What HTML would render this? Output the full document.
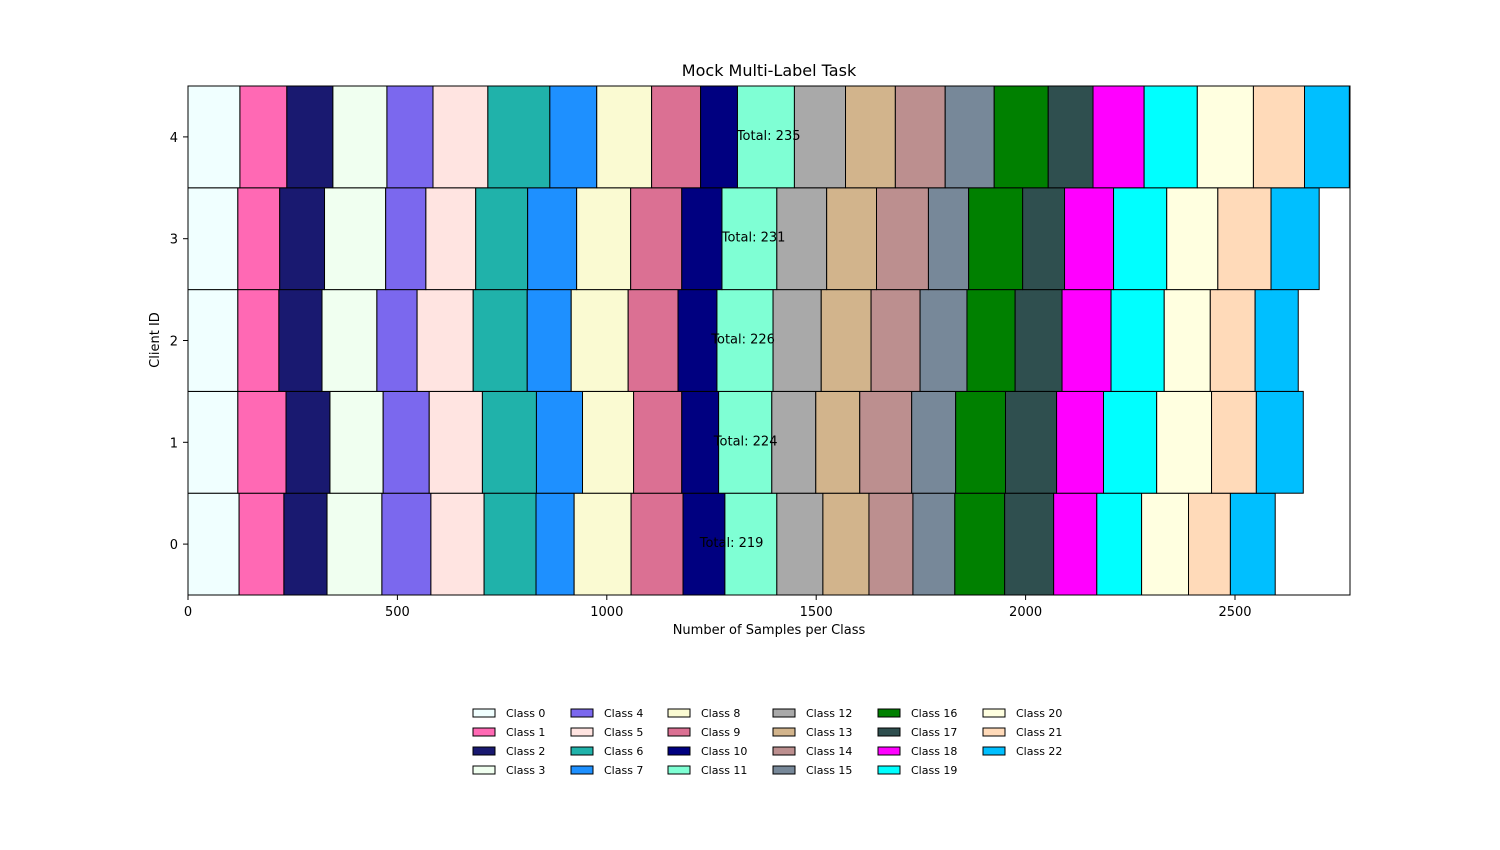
<!DOCTYPE html>
<html><head><meta charset="utf-8">
<style>
html,body{margin:0;padding:0;background:#fff;}
svg{display:block;font-family:"DejaVu Sans","Liberation Sans",sans-serif;}
</style></head>
<body>
<svg id="chart" width="1500" height="850" viewBox="0 0 1500 850"></svg>
<script>
const clients = [0,1,2,3,4];
const totals = [219,224,226,231,235];
const classNames = ["Class 0","Class 1","Class 2","Class 3","Class 4","Class 5","Class 6","Class 7","Class 8","Class 9","Class 10","Class 11","Class 12","Class 13","Class 14","Class 15","Class 16","Class 17","Class 18","Class 19","Class 20","Class 21","Class 22"];
const classColors = ["#F0FFFF","#FF69B4","#191970","#F0FFF0","#7B68EE","#FFE4E1","#20B2AA","#1E90FF","#FAFAD2","#DB7093","#000080","#7FFFD4","#A9A9A9","#D2B48C","#BC8F8F","#778899","#008000","#2F4F4F","#FF00FF","#00FFFF","#FFFFE0","#FFDAB9","#00BFFF"];
const client0 = [122,107,103,131,117,127,124,91,136,124,100,124,110,110,105,100,119,117,103,107,112,100,107];
const client1 = [119,115,105,127,110,127,129,110,122,115,88,127,105,105,124,105,119,122,112,127,131,107,112];
const client2 = [119,98,103,131,96,134,129,105,136,119,93,134,115,119,117,112,115,112,117,127,110,107,103];
const client3 = [119,100,107,146,96,119,124,117,129,122,96,131,119,119,124,96,129,100,117,127,122,127,115];
const client4 = [124,112,110,129,110,131,148,112,131,117,88,136,122,119,119,117,129,107,122,127,134,122,107];
const series = [client0,client1,client2,client3,client4];
const xTicks = [0,500,1000,1500,2000,2500];

const NS="http://www.w3.org/2000/svg";
const svg=document.getElementById('chart');
const L=188,R=1350,T=86,B=595;
const xMax=2774.6;
const xs=v=>L+v/xMax*(R-L);
const ys=v=>B-(v+0.5)/5*(B-T);
function mk(tag,attrs,parent){const e=document.createElementNS(NS,tag);for(const k in attrs)e.setAttribute(k,attrs[k]);(parent||svg).appendChild(e);return e;}

const title=mk('text',{x:769,y:76,'text-anchor':'middle','font-size':16});
title.textContent='Mock Multi-Label Task';



const bars=mk('g',{});


series.forEach((vals,ci)=>{
  let cum=0;
  vals.forEach((v,k)=>{
    const r=mk('rect',{x:xs(cum),y:ys(clients[ci]+0.5),width:xs(cum+v)-xs(cum),height:ys(clients[ci]-0.5)-ys(clients[ci]+0.5),fill:classColors[k],stroke:'#000','stroke-width':1},bars);
    
    
    cum+=v;
  });
  const t=mk('text',{x:xs(cum/2),y:ys(clients[ci])+3,'text-anchor':'middle','font-size':13});
  t.textContent='Total: '+totals[ci];
  
  
});

const frame=mk('rect',{x:L,y:T,width:R-L,height:B-T,fill:'none',stroke:'#000','stroke-width':1});



xTicks.forEach(v=>{
  mk('line',{x1:xs(v),x2:xs(v),y1:B,y2:B+5,stroke:'#000'});
  const t=mk('text',{x:xs(v),y:B+21,'text-anchor':'middle','font-size':13});
  t.textContent=v;
  
  
});
clients.forEach(c=>{
  mk('line',{x1:L-5,x2:L,y1:ys(c),y2:ys(c),stroke:'#000'});
  const t=mk('text',{x:L-10,y:ys(c)+5,'text-anchor':'end','font-size':13});
  t.textContent=c;
  
  
});
const xt=mk('text',{x:769,y:634,'text-anchor':'middle','font-size':13});
xt.textContent='Number of Samples per Class';


const yt=mk('text',{x:0,y:0,'text-anchor':'middle','font-size':13,transform:'translate(159,340) rotate(-90)'});
yt.textContent='Client ID';



const leg=mk('g',{});


const colX=[473,571,668,773,878,983];
classNames.forEach((n,k)=>{
  const col=Math.floor(k/4),row=k%4;
  const x=colX[col],y=709+row*19;
  const g=mk('g',{},leg);
  
  
  mk('rect',{x:x,y:y,width:22,height:8,fill:classColors[k],stroke:'#000','stroke-width':1},g);
  const t=mk('text',{x:x+33,y:y+8,'font-size':11},g);
  t.textContent=n;
});
</script>
</body></html>
